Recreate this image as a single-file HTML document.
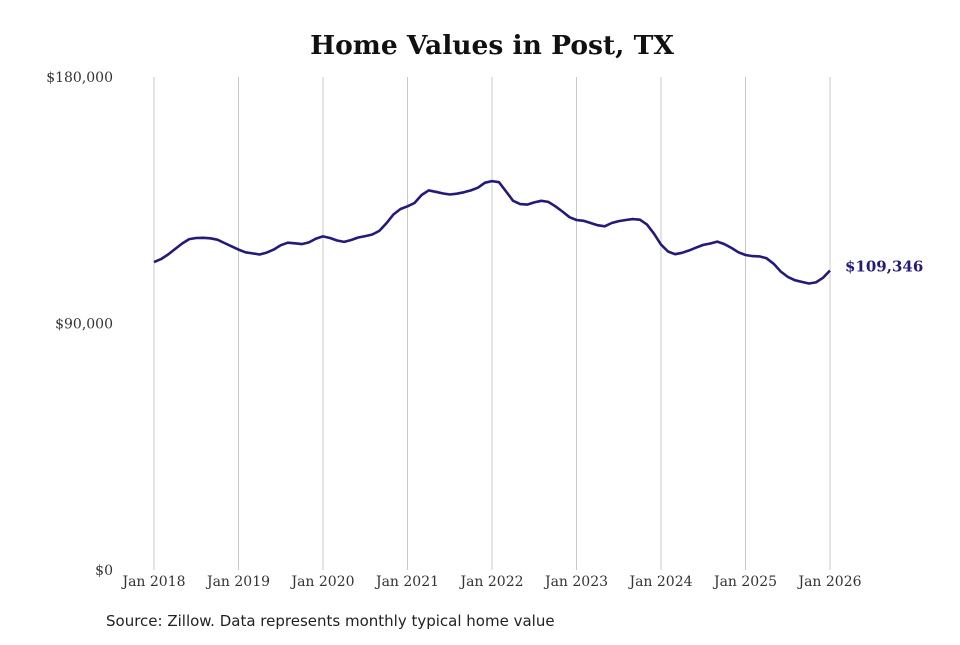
<!DOCTYPE html>
<html><head><meta charset="utf-8"><style>
body{margin:0;background:#fff;width:960px;height:640px;overflow:hidden}
svg text{font-family:"DejaVu Serif","Liberation Serif",serif}
</style></head><body>
<svg id="chart" width="960" height="640">
<text x="492" y="54" text-anchor="middle" font-size="26.5" font-weight="bold" fill="#111">Home Values in Post, TX</text>
<g id="grid"></g><g id="yaxis"></g><g id="xaxis"></g><g id="series"></g>
<text x="106" y="626" font-size="15" fill="#222" style="font-family:'DejaVu Sans','Liberation Sans',sans-serif">Source: Zillow. Data represents monthly typical home value</text>
</svg>
<script>
const yearLabels=["Jan 2018","Jan 2019","Jan 2020","Jan 2021","Jan 2022","Jan 2023","Jan 2024","Jan 2025","Jan 2026"];
const yTicks=[0,90000,180000];
const yTickLabels=["$0","$90,000","$180,000"];
const values=[112.4,113.5,115.2,117.2,119.2,120.8,121.2,121.3,121.1,120.6,119.4,118.2,
117.0,116.0,115.6,115.2,115.9,117.0,118.6,119.5,119.3,119.0,119.6,121.0,
121.8,121.2,120.3,119.8,120.5,121.4,121.9,122.5,123.8,126.6,129.8,131.8,
132.8,134.0,136.9,138.6,138.1,137.5,137.1,137.4,137.9,138.6,139.6,141.4,
142.0,141.6,138.2,134.8,133.6,133.4,134.2,134.8,134.4,132.8,130.9,128.8,
127.8,127.5,126.7,125.9,125.5,126.7,127.4,127.8,128.1,127.9,126.2,122.8,
118.8,116.3,115.3,115.8,116.7,117.7,118.7,119.2,119.9,119.0,117.6,116.0,
115.0,114.6,114.5,113.8,111.8,109.0,107.0,105.8,105.2,104.6,105.0,106.7,
109.346];
const lastLabel="$109,346";
const X0=154,X1=830,Y0=570,Y1=77;
const xm=i=>X0+(X1-X0)*i/(values.length-1);
const ys=v=>Y0-(Y0-Y1)*v/180000;
const NS="http://www.w3.org/2000/svg";
function mk(t,a,p){const e=document.createElementNS(NS,t);for(const k in a)e.setAttribute(k,a[k]);p.appendChild(e);return e;}
const grid=document.getElementById('grid'),xa=document.getElementById('xaxis'),ya=document.getElementById('yaxis'),se=document.getElementById('series');
yearLabels.forEach((l,i)=>{const x=xm(i*12);
const g=mk('line',{x1:x,x2:x,y1:Y1,y2:Y0,stroke:'#c8c8c8','stroke-width':1},grid);


const t=mk('text',{x:x,y:586,'text-anchor':'middle','font-size':14,fill:'#333'},xa);t.textContent=l;

});
yTicks.forEach((v,i)=>{const t=mk('text',{x:113,y:ys(v)+5,'text-anchor':'end','font-size':14,fill:'#333'},ya);t.textContent=yTickLabels[i];

});
const d=values.map((v,i)=>(i?'L':'M')+xm(i).toFixed(1)+','+ys(v*1000).toFixed(1)).join('');
const p=mk('path',{d:d,fill:'none',stroke:'#241a7a','stroke-width':2.6,'stroke-linejoin':'round'},se);


const lv=values[values.length-1];
const lt=mk('text',{x:845,y:ys(lv*1000)+1,'font-size':15,'font-weight':'bold',fill:'#241a7a'},se);lt.textContent=lastLabel;


</script>
</body></html>
